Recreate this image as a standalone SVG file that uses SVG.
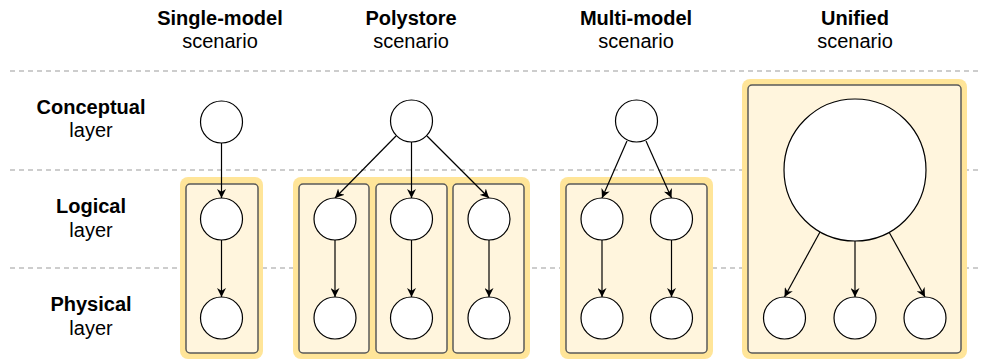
<svg xmlns="http://www.w3.org/2000/svg" width="982" height="364" viewBox="0 0 982 364">
  <defs>
    <marker id="arrow" viewBox="0 0 10 10" refX="10" refY="5" markerWidth="9" markerHeight="9" markerUnits="userSpaceOnUse" orient="auto">
      <path d="M0,0 L10,5 L0,10 L3,5 Z" fill="#000"/>
    </marker>
  </defs>
  <style>
    text { font-family: "Liberation Sans", Arial, sans-serif; font-size: 20px; fill: #000; text-anchor: middle; }
    .b { font-weight: bold; }
    .sep { stroke: #bdbdbd; stroke-width: 1.5; stroke-dasharray: 5 4; fill: none; }
    .halo { fill: #ffe599; }
    .box { fill: #fff5dd; stroke: #595959; stroke-width: 1.5; }
    .node { fill: #fff; stroke: #000; stroke-width: 1.2; }
    .edge { stroke: #000; stroke-width: 1.2; fill: none; marker-end: url(#arrow); }
  </style>

  <!-- layer separators -->
  <g id="separators">
    <line class="sep" x1="10" y1="71" x2="982" y2="71"/>
    <line class="sep" x1="10" y1="170" x2="982" y2="170"/>
    <line class="sep" x1="10" y1="268" x2="982" y2="268"/>
  </g>

  <!-- column headings -->
  <g id="headings">
    <text class="b" x="220" y="25">Single-model</text>
    <text x="220" y="48">scenario</text>
    <text class="b" x="411" y="25">Polystore</text>
    <text x="411" y="48">scenario</text>
    <text class="b" x="636" y="25">Multi-model</text>
    <text x="636" y="48">scenario</text>
    <text class="b" x="855" y="25">Unified</text>
    <text x="855" y="48">scenario</text>
  </g>

  <!-- row headings -->
  <g id="layers">
    <text class="b" x="91" y="114">Conceptual</text>
    <text x="91" y="137">layer</text>
    <text class="b" x="91" y="213">Logical</text>
    <text x="91" y="237">layer</text>
    <text class="b" x="91" y="311">Physical</text>
    <text x="91" y="335">layer</text>
  </g>

  <!-- database boxes -->
  <g id="single-box">
    <rect class="halo" x="180" y="177" width="83" height="182" rx="8"/>
    <rect class="box" x="186" y="184" width="72" height="169" rx="4"/>
  </g>
  <g id="polystore-box">
    <rect class="halo" x="293" y="177" width="237" height="182" rx="8"/>
    <rect class="box" x="299" y="184" width="70" height="169" rx="4"/>
    <rect class="box" x="376" y="184" width="71" height="169" rx="4"/>
    <rect class="box" x="453" y="184" width="71" height="169" rx="4"/>
  </g>
  <g id="multimodel-box">
    <rect class="halo" x="560" y="177" width="153" height="182" rx="8"/>
    <rect class="box" x="566" y="184" width="141" height="169" rx="4"/>
  </g>
  <g id="unified-box">
    <rect class="halo" x="742" y="79" width="225" height="280" rx="8"/>
    <rect class="box" x="748" y="85" width="213" height="268" rx="4"/>
  </g>

  <!-- connectors -->
  <g id="connectors">
    <line class="edge" x1="221.5" y1="143" x2="221.5" y2="198"/>
    <line class="edge" x1="221.5" y1="240" x2="221.5" y2="297"/>

    <line class="edge" x1="396" y1="136" x2="335" y2="198"/>
    <line class="edge" x1="411.5" y1="142" x2="411.5" y2="198"/>
    <line class="edge" x1="427" y1="136" x2="489" y2="198"/>
    <line class="edge" x1="335" y1="240" x2="335" y2="297"/>
    <line class="edge" x1="411.5" y1="240" x2="411.5" y2="297"/>
    <line class="edge" x1="489" y1="240" x2="489" y2="297"/>

    <line class="edge" x1="627" y1="141" x2="602" y2="198"/>
    <line class="edge" x1="646" y1="141" x2="671.5" y2="198"/>
    <line class="edge" x1="602" y1="240" x2="602" y2="297"/>
    <line class="edge" x1="671.5" y1="240" x2="671.5" y2="297"/>

    <line class="edge" x1="820" y1="232" x2="784.5" y2="297"/>
    <line class="edge" x1="855" y1="241" x2="855" y2="297"/>
    <line class="edge" x1="889" y1="232" x2="925" y2="297"/>
  </g>

  <!-- single-model nodes -->
  <g id="single-conceptual"><circle class="node" cx="221.5" cy="122" r="21"/></g>
  <g id="single-logical"><circle class="node" cx="221.5" cy="219" r="21"/></g>
  <g id="single-physical"><circle class="node" cx="221.5" cy="318" r="21"/></g>

  <!-- polystore nodes -->
  <g id="poly-conceptual"><circle class="node" cx="411.5" cy="121" r="21"/></g>
  <g id="poly-logical-1"><circle class="node" cx="335" cy="219" r="21"/></g>
  <g id="poly-logical-2"><circle class="node" cx="411.5" cy="219" r="21"/></g>
  <g id="poly-logical-3"><circle class="node" cx="489" cy="219" r="21"/></g>
  <g id="poly-physical-1"><circle class="node" cx="335" cy="318" r="21"/></g>
  <g id="poly-physical-2"><circle class="node" cx="411.5" cy="318" r="21"/></g>
  <g id="poly-physical-3"><circle class="node" cx="489" cy="318" r="21"/></g>

  <!-- multi-model nodes -->
  <g id="multi-conceptual"><circle class="node" cx="636.5" cy="121" r="21"/></g>
  <g id="multi-logical-1"><circle class="node" cx="602" cy="219" r="21"/></g>
  <g id="multi-logical-2"><circle class="node" cx="671.5" cy="219" r="21"/></g>
  <g id="multi-physical-1"><circle class="node" cx="602" cy="318" r="21"/></g>
  <g id="multi-physical-2"><circle class="node" cx="671.5" cy="318" r="21"/></g>

  <!-- unified nodes -->
  <g id="unified-model"><circle class="node" cx="855" cy="170" r="71"/></g>
  <g id="unified-physical-1"><circle class="node" cx="784.5" cy="318" r="21"/></g>
  <g id="unified-physical-2"><circle class="node" cx="855" cy="318" r="21"/></g>
  <g id="unified-physical-3"><circle class="node" cx="925" cy="318" r="21"/></g>
</svg>
